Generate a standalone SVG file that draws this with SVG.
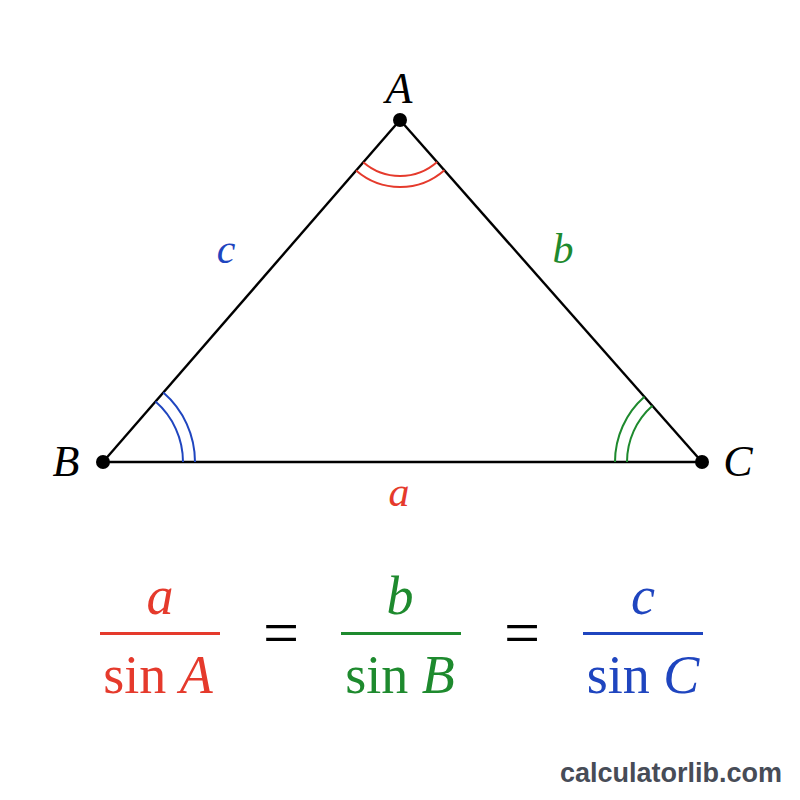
<svg xmlns="http://www.w3.org/2000/svg" width="800" height="800" viewBox="0 0 800 800">
<style>
.t{font-family:"Liberation Serif","DejaVu Serif",serif;font-size:44px;text-anchor:middle}
.s{font-family:"Liberation Serif","DejaVu Serif",serif;font-size:42px;text-anchor:middle}
.i{font-style:italic}
.f{font-family:"Liberation Serif","DejaVu Serif",serif;font-size:54px;text-anchor:middle}
.eq{font-family:"Liberation Serif","DejaVu Serif",serif;font-size:64px;text-anchor:middle}
.red{fill:#e53a2c}.grn{fill:#1e8a2e}.blu{fill:#1f45bf}
.arc{fill:none;stroke-width:2}
</style>
<rect width="800" height="800" fill="#ffffff"/>
<g id="connectors" stroke="#000" stroke-width="2.4">
<line x1="400" y1="120" x2="103" y2="462"/>
<line x1="400" y1="120" x2="702" y2="462"/>
<line x1="103" y1="462" x2="702" y2="462"/>
</g>
<g id="angleA" class="arc" stroke="#e53a2c">
<path d="M363.3,162.3 A56,56 0 0 0 437.1,162"/>
<path d="M356.1,170.6 A67,67 0 0 0 444.4,170.2"/>
</g>
<g id="angleB" class="arc" stroke="#1f45bf">
<path d="M155.5,401.6 A80,80 0 0 1 183,462"/>
<path d="M163.3,392.5 A92,92 0 0 1 195,462"/>
</g>
<g id="angleC" class="arc" stroke="#1e8a2e">
<path d="M652.4,405.8 A75,75 0 0 0 627,462"/>
<path d="M644.4,396.8 A87,87 0 0 0 615,462"/>
</g>
<g id="A"><circle cx="400" cy="120" r="7" fill="#000"/><text class="t i" x="399" y="103">A</text></g>
<g id="B"><circle cx="103" cy="462" r="7" fill="#000"/><text class="t i" x="66" y="476">B</text></g>
<g id="C"><circle cx="702" cy="462" r="7" fill="#000"/><text class="t i" x="738" y="476">C</text></g>
<text class="s i blu" x="226" y="263">c</text>
<text class="s i grn" x="563" y="263">b</text>
<text class="s i red" x="399" y="506">a</text>
<g id="formula">
<text class="f i red" x="160" y="614">a</text>
<rect x="100" y="632" width="120" height="3" fill="#e53a2c"/>
<text class="f red" x="158" y="693">sin <tspan font-style="italic">A</tspan></text>
<text class="eq" x="281" y="654">=</text>
<text class="f i grn" x="400" y="614">b</text>
<rect x="341" y="632" width="120" height="3" fill="#1e8a2e"/>
<text class="f grn" x="400" y="693">sin <tspan font-style="italic">B</tspan></text>
<text class="eq" x="522" y="654">=</text>
<text class="f i blu" x="643" y="614">c</text>
<rect x="583" y="632" width="120" height="3" fill="#1f45bf"/>
<text class="f blu" x="643" y="693">sin <tspan font-style="italic">C</tspan></text>
</g>
<text x="782" y="782" font-family="'Liberation Sans',Arial,sans-serif" font-weight="bold" font-size="27" fill="#474c57" text-anchor="end">calculatorlib.com</text>
</svg>
